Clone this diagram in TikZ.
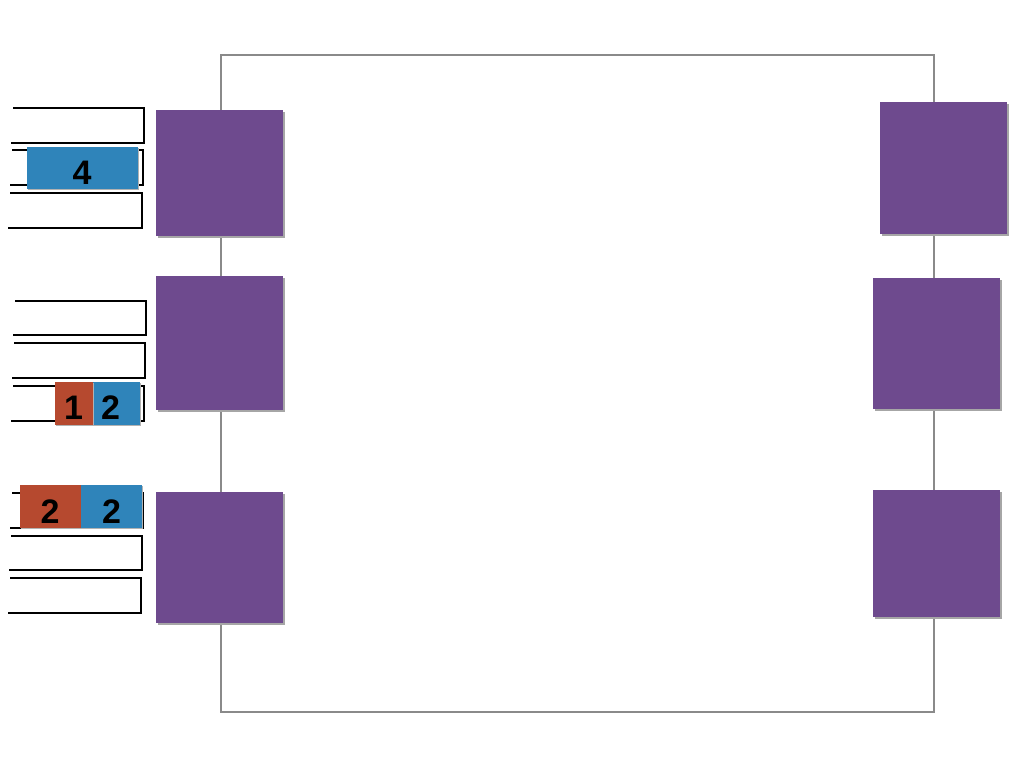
\documentclass[tikz,border=0pt]{standalone}
\usepackage{fontspec}
\setmainfont{Liberation Sans}
\definecolor{pur}{HTML}{6E4A8E}
\definecolor{blu}{HTML}{2F84BA}
\definecolor{rd}{HTML}{B6492F}
\definecolor{frm}{HTML}{8A8A8A}
\begin{document}
\begin{tikzpicture}[x=1pt,y=-1pt,
  sq/.style={fill=pur},
  shd/.style={fill=black!35},
  slot/.style={draw=black,line width=1.6pt},
  tile/.style={inner sep=0pt,anchor=north west},
  num/.style={inner sep=0pt,anchor=base,font=\fontsize{34}{34}\selectfont\bfseries}]
\useasboundingbox (0,0) rectangle (1024,768);
\fill[white] (0,0) rectangle (1024,768);
% frame
\draw[frm,line width=1.3pt] (221,55) rectangle (934,712);
% purple squares with slight shadow
\foreach \a/\b/\c/\d/\n in {156/110/283/236/L1,156/276/283/410/L2,156/492/283/623/L3,880/102/1007/234/R1,873/278/1000/409/R2,873/490/1000/617/R3}{
  \fill[shd] (\a+1.5,\b+1.5) rectangle (\c+1.5,\d+1.5);
  \path[sq] (\a,\b) rectangle (\c,\d) coordinate (\n);
}
% slots
\foreach \t/\b/\r/\lt/\lb in {108/143/144/13/11,150/185/143/12/10,193/228/142/10/8,
  301/335/146/15/13,343/378/145/14/12,386/421/144/13/11,
  493/528/143/12/10,536/570/142/11/9,578/613/141/10/8}{
  \draw[slot] (\lt,\t) -- (\r,\t) -- (\r,\b) -- (\lb,\b);
}
% tiles
\fill[black!30] (28,148) rectangle (139,190);
\node[tile,fill=blu,minimum width=111pt,minimum height=42pt] (t4) at (27,147) {};
\node[num] (n4) at (82,184) {4};
\fill[black!30] (94,383) rectangle (141,426);
\node[tile,fill=blu,minimum width=47pt,minimum height=43pt] (t2a) at (93,382) {};
\node[num] (n2a) at (110.5,419) {2};
\fill[black!30] (56,383) rectangle (94,426);
\node[tile,fill=rd,minimum width=38pt,minimum height=43pt] (t1) at (55,382) {};
\node[num] (n1) at (73.5,419) {1};
\fill[black!30] (21,486) rectangle (143,529);
\node[tile,fill=rd,minimum width=61pt,minimum height=43pt] (t2b) at (20,485) {};
\node[num] (n2b) at (50,523) {2};
\node[tile,fill=blu,minimum width=61pt,minimum height=43pt] (t2c) at (81,485) {};
\node[num] (n2c) at (111.5,523) {2};
\end{tikzpicture}
\end{document}
